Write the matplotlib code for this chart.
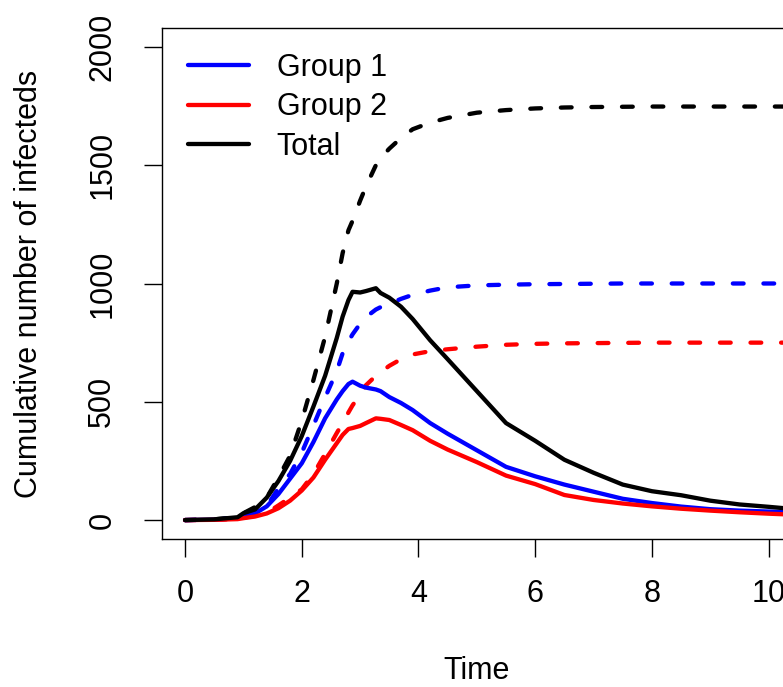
import matplotlib
matplotlib.use("Agg")
import matplotlib.pyplot as plt

plt.rcParams['font.family'] = ['Liberation Sans', 'DejaVu Sans']
plt.rcParams['font.size'] = 22

# time grid
time = [0, 0.5, 0.9, 1.0, 1.2, 1.4, 1.6, 1.8, 2.0, 2.2, 2.4, 2.6, 2.7, 2.8, 2.87,
        3.0, 3.1, 3.27, 3.35, 3.5, 3.7, 3.9, 4.2, 4.5, 5.0, 5.5, 6.0, 6.5, 7.0,
        7.5, 8.0, 8.5, 9.0, 9.5, 10.0, 10.5]

# solid lines
group1 = [0, 2, 8, 13, 28, 58, 110, 175, 240, 330, 430, 510, 545, 575, 585,
          568, 560, 552, 545, 520, 495, 465, 410, 365, 295, 225, 185, 150, 120,
          90, 72, 57, 46, 40, 36, 32]
group2 = [0, 1, 4, 8, 15, 28, 50, 82, 125, 180, 255, 325, 360, 385, 389,
          398, 410, 430, 428, 423, 402, 380, 335, 298, 245, 188, 152, 106, 85,
          70, 58, 48, 40, 33, 27, 22]
total = [0, 3, 12, 29, 45, 95, 165, 250, 355, 480, 610, 770, 860, 930, 965,
         962, 968, 980, 960, 940, 902, 850, 760, 680, 545, 410, 335, 255, 200,
         150, 122, 105, 82, 66, 56, 45]

# dashed lines
group1_cum = [0, 2, 8, 14, 30, 58, 135, 195, 285, 400, 518, 630, 705, 755, 785,
              830, 858, 890, 900, 914, 935, 952, 970, 984, 992, 995, 997, 998, 999,
              1000, 1000, 1000, 1000, 1000, 1000, 1000]
group2_cum = [0, 1, 5, 10, 18, 30, 62, 95, 130, 195, 280, 368, 410, 455, 485,
              530, 570, 610, 625, 652, 680, 700, 714, 722, 733, 741, 745, 747, 748,
              749, 750, 750, 750, 750, 750, 750]
total_cum = [0, 3, 13, 29, 55, 95, 180, 272, 420, 592, 775, 1000, 1128, 1225, 1265,
             1350, 1410, 1500, 1530, 1570, 1615, 1652, 1680, 1700, 1722, 1733, 1740,
             1744, 1746, 1747, 1748, 1748, 1748, 1748, 1748, 1748]

W, H = 783, 687
fig = plt.figure(figsize=(W / 100, H / 100), dpi=100)
left, right, top, bottom = 161.7, 792, 28, 539
ax = fig.add_axes([left / W, 1 - bottom / H, (right - left) / W, (bottom - top) / H])

lw = 3.1
dash = (2.5, 4.6)
for cum, col in [(total_cum, 'black'), (group1_cum, '#0000FF'), (group2_cum, '#FF0000')]:
    ax.plot(time, cum, color=col, lw=lw, dashes=dash, dash_capstyle='round')
style = dict(lw=lw, solid_capstyle='round', solid_joinstyle='round')
ax.plot(time, group1, color='#0000FF', label='Group 1', **style)
ax.plot(time, group2, color='#FF0000', label='Group 2', **style)
ax.plot(time, total, color='black', label='Total', **style)

ax.set_xlim(-0.4, 10.4)
ax.set_ylim(-80, 2080)
ax.set_xticks([0, 2, 4, 6, 8, 10])
ax.set_yticks([0, 500, 1000, 1500, 2000])
for s in ax.spines.values():
    s.set_linewidth(1.0)
ax.tick_params(direction='out', length=13, width=1.0)
ax.tick_params(axis='x', pad=16)
ax.tick_params(axis='y', pad=19)
for lab in ax.get_yticklabels():
    lab.set_rotation(90)
    lab.set_va('center')

ax.set_xlabel('Time')
ax.set_ylabel('Cumulative number of infecteds')
ax.xaxis.set_label_coords(0.5, (bottom - 656) / (bottom - top))
ax.yaxis.set_label_coords((44 - left) / (right - left), 0.5)

ax.legend(loc='upper left', frameon=False, borderpad=0, borderaxespad=0,
          handlelength=2.0, handletextpad=0.9, labelspacing=0.31,
          bbox_to_anchor=(188 / W, 1 - 53 / H), bbox_transform=fig.transFigure)

fig.savefig('out.png', dpi=100)
